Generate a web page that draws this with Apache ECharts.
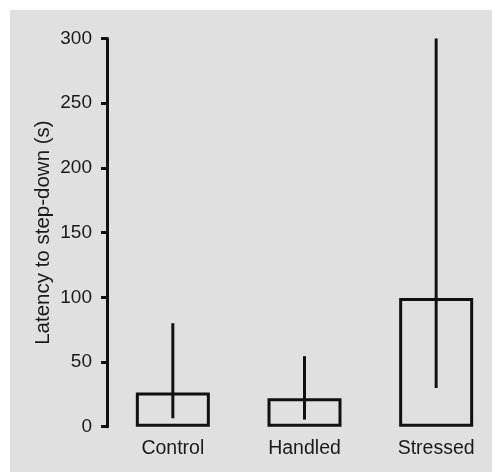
<!DOCTYPE html>
<html>
<head>
<meta charset="utf-8">
<script src="https://cdn.jsdelivr.net/npm/echarts@6/dist/echarts.min.js"></script>
<style>
html,body{margin:0;padding:0;background:#ffffff;overflow:hidden;width:492px;height:472px;}
#chart{width:504px;height:472px;}
</style>
</head>
<body>
<div id="chart"></div>
<script>
var categories = ['Control', 'Handled', 'Stressed'];
var means = [26.5, 22, 99.5];
var rangeLow = [6.5, 5.5, 30];
var rangeHigh = [80, 54.5, 300];
var yTicks = [0, 50, 100, 150, 200, 250, 300];

var chart = echarts.init(document.getElementById('chart'), null, {renderer: 'canvas'});
var font = 'Liberation Sans, Arial, sans-serif';
var rangeData = categories.map(function (c, i) { return [i, rangeLow[i], rangeHigh[i]]; });

chart.setOption({
  animation: false,
  backgroundColor: '#ffffff',
  graphic: [{
    type: 'rect', z: -10, silent: true,
    shape: {x: 10, y: 10, width: 494, height: 462},
    style: {fill: '#e0e0e0'}
  }],
  grid: {left: 107, top: 38.5, width: 395, height: 388.2, containLabel: false},
  xAxis: {
    type: 'category',
    data: categories,
    axisLine: {show: false},
    axisTick: {show: false},
    axisLabel: {color: '#1a1a1a', fontSize: 19.5, fontFamily: font, margin: 12}
  },
  yAxis: {
    type: 'value',
    min: yTicks[0], max: yTicks[yTicks.length - 1], interval: 50,
    name: 'Latency to step-down (s)',
    nameLocation: 'middle',
    nameGap: 53,
    nameMoveOverlap: false,
    nameTextStyle: {color: '#1a1a1a', fontSize: 20.5, fontFamily: font},
    axisLine: {show: true, lineStyle: {color: '#111', width: 3}},
    axisTick: {show: true, length: 6, lineStyle: {color: '#111', width: 3}},
    axisLabel: {color: '#1a1a1a', fontSize: 19, fontFamily: font, margin: 15},
    splitLine: {show: false}
  },
  series: [{
    type: 'bar',
    data: means,
    barWidth: 74,
    itemStyle: {color: 'rgba(0,0,0,0)', borderColor: '#111', borderWidth: 3}
  }, {
    type: 'custom',
    data: rangeData,
    z: 5,
    renderItem: function (params, api) {
      var p1 = api.coord([api.value(0), api.value(1)]);
      var p2 = api.coord([api.value(0), api.value(2)]);
      return {
        type: 'line',
        shape: {x1: p1[0], y1: p1[1], x2: p2[0], y2: p2[1]},
        style: {stroke: '#111', lineWidth: 3}
      };
    }
  }]
});
</script>
</body>
</html>
